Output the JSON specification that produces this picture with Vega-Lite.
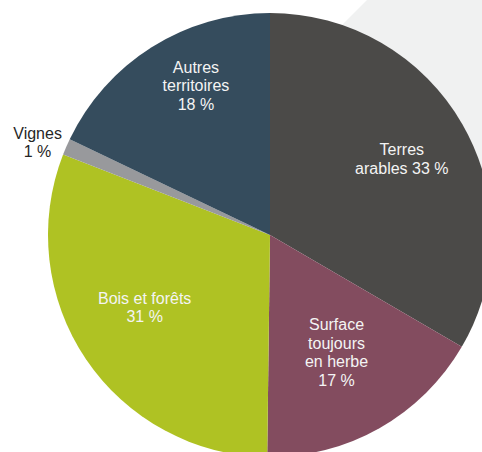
{
  "$schema": "https://vega.github.io/schema/vega-lite/v6.json",
  "width": 540,
  "height": 470,
  "autosize": {"type": "none"},
  "padding": 0,
  "background": "white",
  "view": {"stroke": null},
  "config": {"text": {"font": "Liberation Sans"}},
  "datasets": {
    "parts": [
      {"occupation": "Terres arables", "part": 33.4, "etiquette": "Terres\narables 33 %", "rang": 1},
      {"occupation": "Surface toujours en herbe", "part": 16.8, "etiquette": "Surface\ntoujours\nen herbe\n17 %", "rang": 2},
      {"occupation": "Bois et forêts", "part": 30.7, "etiquette": "Bois et forêts\n31 %", "rang": 3},
      {"occupation": "Vignes", "part": 1.2, "etiquette": "Vignes\n1 %", "rang": 4},
      {"occupation": "Autres territoires", "part": 17.9, "etiquette": "Autres\nterritoires\n18 %", "rang": 5}
    ],
    "fond": [
      {"x": 250, "y": 117, "y2": 117},
      {"x": 367, "y": 0, "y2": 179},
      {"x": 482, "y": 0, "y2": 240}
    ]
  },
  "layer": [
    {
      "data": {"name": "fond"},
      "mark": {"type": "area", "color": "#f0f1f1", "interpolate": "linear"},
      "encoding": {
        "x": {"field": "x", "type": "quantitative", "scale": {"domain": [0, 540], "nice": false, "zero": false}, "axis": null},
        "y": {"field": "y", "type": "quantitative", "scale": {"domain": [0, 470], "reverse": true, "nice": false, "zero": false}, "axis": null},
        "y2": {"field": "y2"}
      }
    },
    {
      "data": {"name": "parts"},
      "mark": {"type": "arc", "outerRadius": 222},
      "encoding": {
        "theta": {"field": "part", "type": "quantitative", "stack": true},
        "order": {"field": "rang"},
        "color": {
          "field": "occupation", "type": "nominal", "legend": null,
          "scale": {
            "domain": ["Terres arables", "Surface toujours en herbe", "Bois et forêts", "Vignes", "Autres territoires"],
            "range": ["#4b4a48", "#834c5f", "#afc223", "#98999c", "#354c5d"]
          }
        }
      }
    },
    {
      "data": {"name": "parts"},
      "mark": {"type": "text", "radius": 152, "dy": -9, "fontSize": 16, "lineHeight": 18.5, "lineBreak": "\n", "align": "center", "baseline": "middle", "color": "#f4f4f4"},
      "encoding": {
        "theta": {"field": "part", "type": "quantitative", "stack": true},
        "order": {"field": "rang"},
        "detail": {"field": "occupation"},
        "text": {"condition": {"test": "datum.rang == 1", "field": "etiquette"}, "value": ""}
      }
    },
    {
      "data": {"name": "parts"},
      "mark": {"type": "text", "radius": 135, "dy": -27, "fontSize": 16, "lineHeight": 18.5, "lineBreak": "\n", "align": "center", "baseline": "middle", "color": "#f4f4f4"},
      "encoding": {
        "theta": {"field": "part", "type": "quantitative", "stack": true},
        "order": {"field": "rang"},
        "detail": {"field": "occupation"},
        "text": {"condition": {"test": "datum.rang == 2", "field": "etiquette"}, "value": ""}
      }
    },
    {
      "data": {"name": "parts"},
      "mark": {"type": "text", "radius": 144, "dx": -6, "dy": -17, "fontSize": 16, "lineHeight": 18.5, "lineBreak": "\n", "align": "center", "baseline": "middle", "color": "#f4f4f4"},
      "encoding": {
        "theta": {"field": "part", "type": "quantitative", "stack": true},
        "order": {"field": "rang"},
        "detail": {"field": "occupation"},
        "text": {"condition": {"test": "datum.rang == 3", "field": "etiquette"}, "value": ""}
      }
    },
    {
      "data": {"name": "parts"},
      "mark": {"type": "text", "radius": 250, "dx": -3, "dy": -2, "fontSize": 16, "lineHeight": 18.5, "lineBreak": "\n", "align": "center", "baseline": "middle", "color": "#262626"},
      "encoding": {
        "theta": {"field": "part", "type": "quantitative", "stack": true},
        "order": {"field": "rang"},
        "detail": {"field": "occupation"},
        "text": {"condition": {"test": "datum.rang == 4", "field": "etiquette"}, "value": ""}
      }
    },
    {
      "data": {"name": "parts"},
      "mark": {"type": "text", "radius": 167, "dx": 15, "dy": -26, "fontSize": 16, "lineHeight": 18.5, "lineBreak": "\n", "align": "center", "baseline": "middle", "color": "#f4f4f4"},
      "encoding": {
        "theta": {"field": "part", "type": "quantitative", "stack": true},
        "order": {"field": "rang"},
        "detail": {"field": "occupation"},
        "text": {"condition": {"test": "datum.rang == 5", "field": "etiquette"}, "value": ""}
      }
    }
  ]
}
